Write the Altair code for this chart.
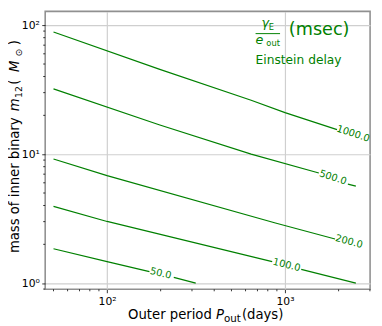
import altair as alt
import pandas as pd

FONT = "DejaVu Sans"
GREEN = "#008000"

# ---- contour lines: outer period (days) vs mass m12 (Msun)
P_1000 = [50, 196, 645, 1000, 1960]
M_1000 = [88.5, 45.6, 26.2, 21.0, 15.5]
P_500_A = [50, 196, 645, 1549]
M_500_A = [32.1, 16.9, 10.0, 7.14]
P_500_B = [2255, 2500]
M_500_B = [5.86, 5.66]
P_200 = [50, 100, 883, 1910]
M_200 = [9.18, 6.82, 2.93, 2.20]
P_100_A = [50, 100, 847]
M_100_A = [3.94, 3.01, 1.47]
P_100_B = [1233, 2500]
M_100_B = [1.28, 1.0]
P_50_A = [50, 100, 173]
M_50_A = [1.85, 1.47, 1.23]
P_50_B = [237, 315]
M_50_B = [1.11, 1.0]

LABEL_TEXT = ["1000.0", "500.0", "200.0", "100.0", "50.0"]
LABEL_P = [2415, 1858, 2290, 1021, 200]
LABEL_M = [14.4, 6.59, 2.10, 1.38, 1.19]
LABEL_ANGLE = [18, 18, 15, 14, 13.5]

X_MAJOR = [100, 1000]
X_MINOR = [50, 60, 70, 80, 90, 200, 300, 400, 500, 600, 700, 800, 900, 2000, 3000]
Y_MAJOR = [1, 10, 100]
Y_MINOR = [0.9, 2, 3, 4, 5, 6, 7, 8, 9, 20, 30, 40, 50, 60, 70, 80, 90]

X_DOMAIN = [44.9, 3006]
Y_DOMAIN = [0.896, 127.9]

W, H = 332, 284

segments = [
    ("1000", P_1000, M_1000), ("500a", P_500_A, M_500_A), ("500b", P_500_B, M_500_B),
    ("200", P_200, M_200), ("100a", P_100_A, M_100_A), ("100b", P_100_B, M_100_B),
    ("50a", P_50_A, M_50_A), ("50b", P_50_B, M_50_B),
]
rows = []
for seg, ps, ms in segments:
    for i, (p, m) in enumerate(zip(ps, ms)):
        rows.append({"seg": seg, "i": i, "P": p, "M": m})
lines_df = pd.DataFrame(rows)
labels_df = pd.DataFrame({"t": LABEL_TEXT, "P": LABEL_P, "M": LABEL_M, "a": LABEL_ANGLE})

xs = alt.Scale(type="log", domain=X_DOMAIN, nice=False)
ys = alt.Scale(type="log", domain=Y_DOMAIN, nice=False)

pexpr = "datum.value >= 1000 ? '10³' : datum.value >= 100 ? '10²' : datum.value >= 10 ? '10¹' : '10⁰'"
xaxis = alt.Axis(values=X_MAJOR, labelExpr=pexpr, title=None, domain=False,
                 tickSize=3.5, labelPadding=3, grid=True)
yaxis = alt.Axis(values=Y_MAJOR, labelExpr=pexpr, title=None, domain=False,
                 tickSize=3.5, labelPadding=2.5, grid=True)

lines = alt.Chart(lines_df).mark_line(color=GREEN, strokeWidth=1.2).encode(
    x=alt.X("P:Q", scale=xs, axis=xaxis),
    y=alt.Y("M:Q", scale=ys, axis=yaxis),
    detail="seg:N",
    order="i:Q",
)

labels = alt.Chart(labels_df).mark_text(color=GREEN, fontSize=10, font=FONT, align="center",
                                        baseline="middle").encode(
    x=alt.X("P:Q", scale=xs, axis=xaxis),
    y=alt.Y("M:Q", scale=ys, axis=yaxis),
    text="t:N",
    angle=alt.Angle("a:Q", scale=None),
)

xminor = alt.Chart(pd.DataFrame({"v": X_MINOR})).mark_rule(color="black", strokeWidth=0.8).encode(
    x=alt.X("v:Q", scale=xs, axis=xaxis), y=alt.value(H), y2=alt.value(H + 2))
yminor = alt.Chart(pd.DataFrame({"v": Y_MINOR})).mark_rule(color="black", strokeWidth=0.8).encode(
    y=alt.Y("v:Q", scale=ys, axis=yaxis), x=alt.value(-2), x2=alt.value(0))


def txt(s, x, y, size, italic=False, angle=0, color="black", baseline="alphabetic"):
    kw = dict(text=s, fontSize=size, font=FONT, align="left", baseline=baseline, color=color)
    if italic:
        kw["fontStyle"] = "italic"
    if angle:
        kw["angle"] = angle
    return alt.Chart(alt.Data(values=[{}])).mark_text(**kw).encode(x=alt.value(x), y=alt.value(y))


TS = 13.5
# x title: Outer period P_out(days)
xt = [
    txt("Outer period", 84.7, 314, TS),
    txt("P", 174.6, 314, TS, italic=True),
    txt("out", 182.8, 317, 10.5),
    txt("(days)", 201, 314, TS),
]
# y title: mass of inner binary m12( M_sun )
YB = -27
yt = [
    txt("mass of inner binary", YB, 247, TS, angle=270),
    txt("m", YB, 102, TS, italic=True, angle=270),
    txt("12", YB + 3, 88.5, 9.5, angle=270),
    txt("(", YB, 75, TS, angle=270),
    txt("M", YB, 62, TS, italic=True, angle=270),
    txt("⊙", YB + 3, 46, 9.5, angle=270),
    txt(")", YB, 34.5, TS, angle=270),
]
# legend annotation
leg = [
    txt("γ", 221, 16, 13, italic=True, color=GREEN),
    txt("E", 228.5, 19, 8.5, color=GREEN),
    alt.Chart(alt.Data(values=[{}])).mark_rule(color=GREEN, strokeWidth=1).encode(
        x=alt.value(215), x2=alt.value(240), y=alt.value(22.7)),
    txt("e", 215, 33.5, 13, italic=True, color=GREEN),
    txt("out", 226, 35.5, 8.5, color=GREEN),
    txt("(msec)", 249, 24.5, 18, color=GREEN),
    txt("Einstein delay", 215, 53.5, 12.5, color=GREEN),
]

chart = alt.layer(lines, labels, xminor, yminor, *xt, *yt, *leg).properties(
    width=W, height=H,
    autosize=alt.AutoSizeParams(type="none"),
    padding={"left": 38, "top": 0, "right": 4, "bottom": 34},
).configure_axis(
    labelFont=FONT, labelFontSize=11, labelColor="black", tickColor="black", tickWidth=0.8,
    gridColor="#cfcfcf", gridWidth=1.2,
).configure_view(stroke="#909090", strokeWidth=1.6)

chart.save("out.html", embed_options={"renderer": "svg", "actions": False})
